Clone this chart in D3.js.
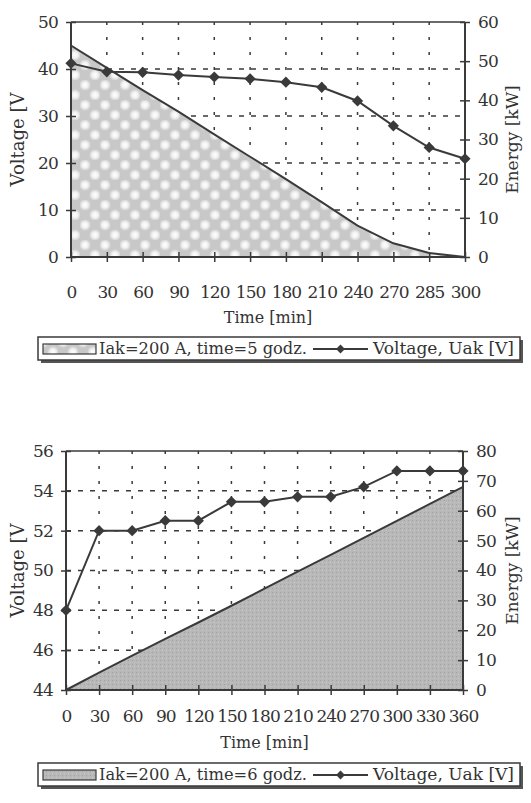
<!DOCTYPE html>
<html>
<head>
<meta charset="utf-8">
<script src="https://cdn.jsdelivr.net/npm/d3@7"></script>
<style>
  body { margin: 0; background: #fff; }
  svg { display: block; font-family: "DejaVu Serif", serif; }
</style>
</head>
<body>
<div id="my_dataviz"></div>
<script>
// data (discharge 5 h, charge 6 h)
var timeTop = ["0", "30", "60", "90", "120", "150", "180", "210", "240", "270", "285", "300"];
var voltageTop = [41.2, 39.4, 39.3, 38.7, 38.3, 37.9, 37.2, 36.1, 33.2, 27.9, 23.3, 20.9];
var energyTop = [54.0, 48.3, 42.6, 37.1, 31.3, 25.6, 19.9, 14.0, 8.0, 3.5, 1.0, 0];
var leftTicksTop = [0, 10, 20, 30, 40, 50];
var rightTicksTop = [0, 10, 20, 30, 40, 50, 60];

var timeBottom = ["0", "30", "60", "90", "120", "150", "180", "210", "240", "270", "300", "330", "360"];
var voltageBottom = [48.0, 52.0, 52.0, 52.5, 52.5, 53.45, 53.45, 53.7, 53.7, 54.2, 55.0, 55.0, 55.0];
var energyBottom = [0, 5.8, 11.5, 17.1, 22.6, 28.2, 33.9, 39.6, 45.2, 50.9, 56.6, 62.3, 68.0];
var leftTicksBottom = [44, 46, 48, 50, 52, 54, 56];
var rightTicksBottom = [0, 10, 20, 30, 40, 50, 60, 70, 80];

var legendTop = ["Iak=200 A, time=5 godz.", "Voltage, Uak [V]"];
var legendBottom = ["Iak=200 A, time=6 godz.", "Voltage, Uak [V]"];

var ink = "#3a3a3a";

var svg = d3.select("#my_dataviz")
    .append("svg")
    .attr("width", 531)
    .attr("height", 803);

// fills: light dotted one for the top chart, grainy grey for the bottom one
var defs = svg.append("defs");
var glow = defs.append("radialGradient").attr("id", "glow");
glow.append("stop").attr("offset", "0%").attr("stop-color", "#fff").attr("stop-opacity", 1);
glow.append("stop").attr("offset", "50%").attr("stop-color", "#fff").attr("stop-opacity", 0.75);
glow.append("stop").attr("offset", "100%").attr("stop-color", "#fff").attr("stop-opacity", 0);

var dots = defs.append("pattern").attr("id", "dots")
    .attr("patternUnits", "userSpaceOnUse")
    .attr("width", 20).attr("height", 20);
dots.append("rect").attr("width", 20).attr("height", 20).attr("fill", "#c8c8c8");
dots.append("circle").attr("cx", 5).attr("cy", 5).attr("r", 6).attr("fill", "url(#glow)");
dots.append("circle").attr("cx", 15).attr("cy", 15).attr("r", 6).attr("fill", "url(#glow)");

var grain = defs.append("pattern").attr("id", "grain")
    .attr("patternUnits", "userSpaceOnUse")
    .attr("width", 4).attr("height", 4);
grain.append("rect").attr("width", 4).attr("height", 4).attr("fill", "#b8b8b8");
grain.append("rect").attr("x", 0).attr("y", 0).attr("width", 1).attr("height", 1).attr("fill", "#a2a2a2");
grain.append("rect").attr("x", 2).attr("y", 2).attr("width", 1).attr("height", 1).attr("fill", "#c8c8c8");

drawChart({
  time: timeTop, voltage: voltageTop, energy: energyTop,
  vDomain: [0, 50], eDomain: [0, 60],
  leftTicks: leftTicksTop, rightTicks: rightTicksTop,
  left: 71, right: 465, top: 22, bottom: 257,
  labelY: 298, titleY: 323, fill: "url(#dots)",
  legend: legendTop, legendY: 337
});

drawChart({
  time: timeBottom, voltage: voltageBottom, energy: energyBottom,
  vDomain: [44, 56], eDomain: [0, 80],
  leftTicks: leftTicksBottom, rightTicks: rightTicksBottom,
  left: 66, right: 463, top: 451, bottom: 690,
  labelY: 722, titleY: 748, fill: "url(#grain)",
  legend: legendBottom, legendY: 763
});

function drawChart(c) {
  var g = svg.append("g");

  var x = d3.scalePoint().domain(c.time).range([c.left, c.right]);
  var yV = d3.scaleLinear().domain(c.vDomain).range([c.bottom, c.top]);
  var yE = d3.scaleLinear().domain(c.eDomain).range([c.bottom, c.top]);

  // grid: dashed horizontals on the voltage ticks, dotted verticals on the categories
  g.append("g").selectAll("line")
      .data(c.leftTicks.slice(1, -1))
      .join("line")
      .attr("x1", c.left).attr("x2", c.right)
      .attr("y1", function (d) { return yV(d); })
      .attr("y2", function (d) { return yV(d); })
      .attr("stroke", ink).attr("stroke-width", 1.5)
      .attr("stroke-dasharray", "5,7");
  g.append("g").selectAll("line")
      .data(c.time.slice(1, -1))
      .join("line")
      .attr("x1", function (d) { return x(d); })
      .attr("x2", function (d) { return x(d); })
      .attr("y1", c.top).attr("y2", c.bottom)
      .attr("stroke", ink).attr("stroke-width", 1.5)
      .attr("stroke-dasharray", "3,12");

  // energy area, drawn over the grid
  var rows = c.time.map(function (t, i) { return { t: t, e: c.energy[i], v: c.voltage[i] }; });
  g.append("path")
      .datum(rows)
      .attr("fill", c.fill)
      .attr("d", d3.area()
          .x(function (d) { return x(d.t); })
          .y0(c.bottom)
          .y1(function (d) { return yE(d.e); }));
  g.append("path")
      .datum(rows)
      .attr("fill", "none")
      .attr("stroke", ink).attr("stroke-width", 2)
      .attr("d", d3.line()
          .x(function (d) { return x(d.t); })
          .y(function (d) { return yE(d.e); }));

  // top border of the plot area
  g.append("line")
      .attr("x1", c.left).attr("x2", c.right)
      .attr("y1", c.top).attr("y2", c.top)
      .attr("stroke", ink).attr("stroke-width", 1.5);

  // axes, ticks crossing the lines
  var ax = g.append("g").attr("transform", "translate(0," + c.bottom + ")")
      .call(d3.axisBottom(x).tickSize(5).tickPadding(0));
  ax.selectAll(".tick line").attr("y1", -5);
  ax.selectAll(".tick text").attr("y", c.labelY - c.bottom).attr("dy", 0)
      .style("letter-spacing", "-1px");

  var al = g.append("g").attr("transform", "translate(" + c.left + ",0)")
      .call(d3.axisLeft(yV).tickValues(c.leftTicks).tickSize(5).tickPadding(8));
  al.selectAll(".tick line").attr("x1", 5);

  var ar = g.append("g").attr("transform", "translate(" + c.right + ",0)")
      .call(d3.axisRight(yE).tickValues(c.rightTicks).tickSize(5).tickPadding(8));
  ar.selectAll(".tick line").attr("x1", -5);

  // plain axis lines instead of the d3 domain path (no outer ticks)
  g.selectAll(".domain").remove();
  g.append("line").attr("x1", c.left).attr("x2", c.right)
      .attr("y1", c.bottom).attr("y2", c.bottom)
      .attr("stroke", ink).attr("stroke-width", 2);
  g.append("line").attr("x1", c.left).attr("x2", c.left)
      .attr("y1", c.top).attr("y2", c.bottom)
      .attr("stroke", ink).attr("stroke-width", 2);
  g.append("line").attr("x1", c.right).attr("x2", c.right)
      .attr("y1", c.top).attr("y2", c.bottom)
      .attr("stroke", ink).attr("stroke-width", 2);

  g.selectAll(".tick line").attr("stroke", ink).attr("stroke-width", 1.5);
  g.selectAll(".tick text")
      .attr("fill", "#333")
      .style("font-family", "DejaVu Serif")
      .style("font-size", "17px");
  al.selectAll(".tick text").style("letter-spacing", "-0.8px");
  ar.selectAll(".tick text").style("letter-spacing", "-0.8px");

  // voltage line with diamonds
  g.append("path")
      .datum(rows)
      .attr("fill", "none")
      .attr("stroke", ink).attr("stroke-width", 2)
      .attr("d", d3.line()
          .x(function (d) { return x(d.t); })
          .y(function (d) { return yV(d.v); }));
  g.append("g").selectAll("path")
      .data(rows)
      .join("path")
      .attr("transform", function (d) { return "translate(" + x(d.t) + "," + yV(d.v) + ")"; })
      .attr("d", d3.symbol(d3.symbolDiamond2, 80))
      .attr("fill", ink);

  // axis titles
  g.append("text")
      .attr("transform", "translate(" + ((c.left + c.right) / 2) + "," + c.titleY + ")")
      .style("text-anchor", "middle")
      .style("font-size", "16px")
      .attr("fill", "#333")
      .text("Time [min]");
  g.append("text")
      .attr("transform", "translate(24," + ((c.top + c.bottom) / 2) + ") rotate(-90)")
      .style("text-anchor", "middle")
      .style("font-size", "18px")
      .attr("fill", "#333")
      .text("Voltage [V");
  g.append("text")
      .attr("transform", "translate(518," + ((c.top + c.bottom) / 2) + ") rotate(-90)")
      .style("text-anchor", "middle")
      .style("font-size", "17px")
      .attr("fill", "#333")
      .text("Energy [kW]");

  // legend box with a drop shadow
  var lg = g.append("g").attr("transform", "translate(38," + c.legendY + ")");
  lg.append("rect").attr("x", 3).attr("y", 3).attr("width", 482).attr("height", 23).attr("fill", "#555");
  lg.append("rect").attr("width", 482).attr("height", 23)
      .attr("fill", "#fff").attr("stroke", ink).attr("stroke-width", 1.5);
  lg.append("rect").attr("x", 5).attr("y", 7).attr("width", 53).attr("height", 10)
      .attr("fill", c.fill).attr("stroke", ink).attr("stroke-width", 1.2);
  lg.append("text").attr("x", 61).attr("y", 17)
      .style("font-size", "16px").attr("fill", "#333")
      .attr("textLength", 208).attr("lengthAdjust", "spacingAndGlyphs")
      .text(c.legend[0]);
  lg.append("line").attr("x1", 275).attr("x2", 330).attr("y1", 12).attr("y2", 12)
      .attr("stroke", ink).attr("stroke-width", 2);
  lg.append("path").attr("transform", "translate(302.5,12)")
      .attr("d", d3.symbol(d3.symbolDiamond2, 50)).attr("fill", ink);
  lg.append("text").attr("x", 335).attr("y", 17)
      .style("font-size", "16px").attr("fill", "#333")
      .attr("textLength", 141).attr("lengthAdjust", "spacingAndGlyphs")
      .text(c.legend[1]);
}
</script>
</body>
</html>
